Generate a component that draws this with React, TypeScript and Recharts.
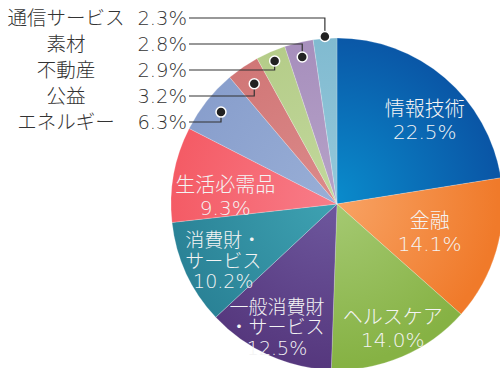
import React from 'react';
import { PieChart, Pie, Cell } from 'recharts';

// sector names (\n = line break inside the slice) and their weights, clockwise from 12 o'clock
const sectors = [
  '情報技術',
  '金融',
  'ヘルスケア',
  '一般消費財\n・サービス',
  '消費財・\nサービス',
  '生活必需品',
  'エネルギー',
  '公益',
  '不動産',
  '素材',
  '通信サービス',
];
const weights = [22.5, 14.1, 14.0, 12.5, 10.2, 9.3, 6.3, 3.2, 2.9, 2.8, 2.3];

const outerColors = ['#0a56a6', '#f07a2a', '#86b244', '#56387e', '#2a8296', '#f45a64', '#889ecc', '#d07676', '#b4cc88', '#a68ebc', '#80bad0'];
const innerColors = ['#0a8ccc', '#f8a466', '#a6ca74', '#6e589e', '#3ea2b2', '#f87c88', '#98aed6', '#dc8a8a', '#c2d89c', '#b6a2c8', '#94c8da'];

const data = sectors.map((name, i) => ({ name, value: weights[i] }));

// label layout: big slices get a label inside, small ones a leader line to the left column
const INSIDE = 6;
const insideRadius = [121, 97, 136, 137, 127, 112];
const insideShift = [6, 1, -1, 1.5, -1.7, -6.6];
const dotRadius = [148, 146, 156, 151, 168];
const FONT = '"DejaVu Sans", "Noto Sans CJK JP", sans-serif';
const RAD = Math.PI / 180;

function polar(cx: number, cy: number, r: number, angle: number) {
  return { x: cx + r * Math.cos(-angle * RAD), y: cy + r * Math.sin(-angle * RAD) };
}

function SliceLabel(props: any) {
  const { cx, cy, midAngle, index, value, name } = props;
  const pct = `${Number(value).toFixed(1)}%`;
  if (index < INSIDE) {
    const p = polar(cx, cy, insideRadius[index], midAngle - insideShift[index]);
    const lines = [...String(name).split('\n'), pct];
    const lh = lines.length > 2 ? 20.5 : 23;
    const y0 = p.y - ((lines.length - 1) * lh) / 2;
    return (
      <text x={p.x} y={y0} textAnchor="middle" fill="#f4f4f4" fontSize={lines.length > 2 ? 19 : 20} fontWeight={300} fontFamily={FONT}>
        {lines.map((l, k) => (
          <tspan key={k} x={p.x} y={y0 + k * lh} dominantBaseline="central">
            {l}
          </tspan>
        ))}
      </text>
    );
  }
  const row = sectors.length - 1 - index;
  const ly = 18 + row * 26;
  const dot = polar(cx, cy, dotRadius[index - INSIDE], midAngle);
  return (
    <g>
      <text x={66} y={ly} textAnchor="middle" dominantBaseline="central" fill="#333" fontSize={19.5} fontWeight={300} fontFamily={FONT}>
        {name}
      </text>
      <text x={187} y={ly} textAnchor="end" dominantBaseline="central" fill="#333" fontSize={19.5} fontWeight={300} fontFamily={FONT}>
        {pct}
      </text>
      <polyline
        points={`189,${ly} ${dot.x},${ly} ${dot.x},${dot.y}`}
        fill="none"
        stroke="#333"
        strokeWidth={1.2}
      />
      <circle cx={dot.x} cy={dot.y} r={5} fill="#222" stroke="#fff" strokeWidth={1.5} />
    </g>
  );
}

export default function App() {
  return (
    <div style={{ position: 'fixed', left: 0, top: 0, background: '#fff' }}>
      <PieChart width={500} height={368}>
        <defs>
          {sectors.map((_, i) => (
            <radialGradient key={i} id={`slice${i}`} gradientUnits="userSpaceOnUse" cx={332} cy={199} r={166}>
              <stop offset="0%" stopColor={innerColors[i]} />
              <stop offset="100%" stopColor={outerColors[i]} />
            </radialGradient>
          ))}
        </defs>
        <Pie
          data={data}
          dataKey="value"
          nameKey="name"
          cx={332}
          cy={199}
          outerRadius={166}
          startAngle={90}
          endAngle={-270}
          stroke="rgba(255,255,255,0.35)"
          strokeWidth={0.6}
          label={SliceLabel}
          labelLine={false}
          isAnimationActive={false}
        >
          {data.map((_, i) => (
            <Cell key={i} fill={`url(#slice${i})`} />
          ))}
        </Pie>
      </PieChart>
    </div>
  );
}
